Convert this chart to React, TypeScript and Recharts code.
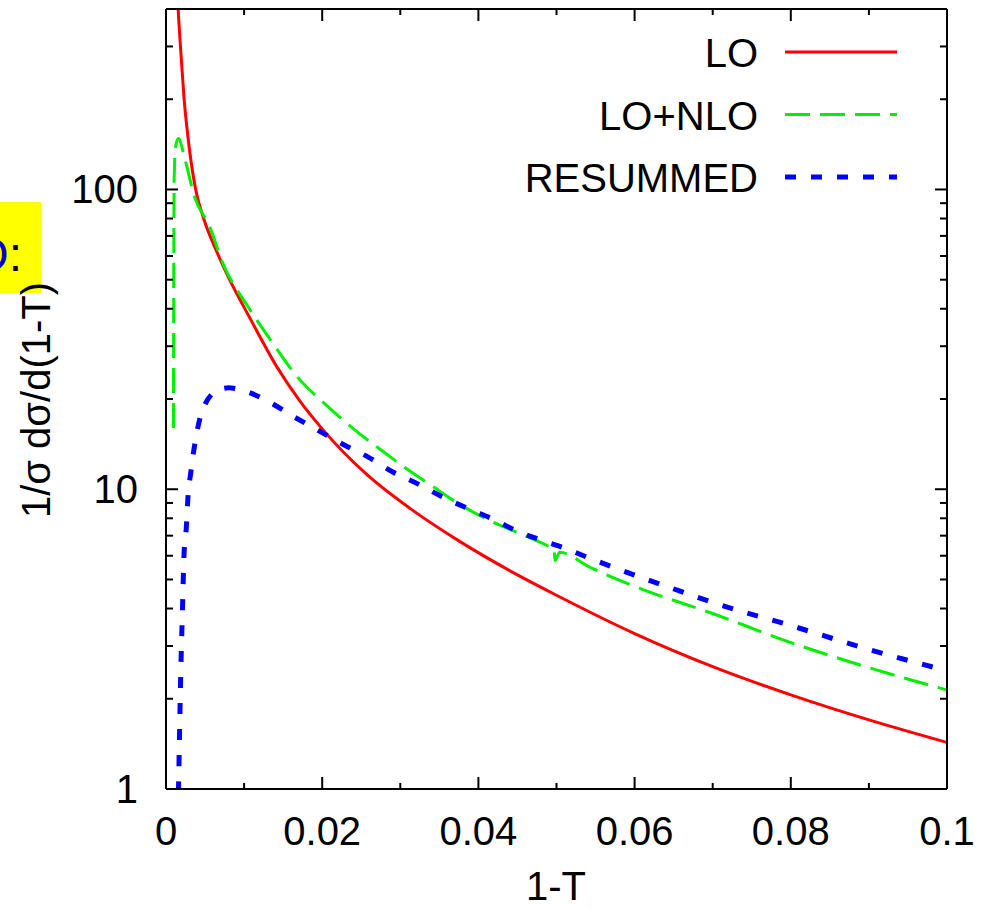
import { LineChart, Line, XAxis, YAxis, Legend } from "recharts";

// values (1-T on x, 1/sigma dsigma/d(1-T) on a log y axis)
const loX = [0.0013, 0.00155, 0.00188, 0.0023, 0.00286, 0.0038, 0.00478, 0.0065, 0.0078, 0.0108, 0.0142, 0.0172, 0.02, 0.0257, 0.0316, 0.0376, 0.045, 0.05, 0.06, 0.07, 0.08, 0.09, 0.1];
const loY = [560, 403, 292, 203, 146, 100, 80.6, 62, 52.2, 37, 25.6, 19.6, 15.9, 11.2, 8.5, 6.7, 5.18, 4.43, 3.3, 2.56, 2.06, 1.7, 1.43];

const nloX = [0.00095, 0.001, 0.00105, 0.0012, 0.00158, 0.0024, 0.0036, 0.0056, 0.0073, 0.0104, 0.0133, 0.0167, 0.0208, 0.024, 0.0274, 0.0308, 0.0342, 0.0376, 0.0411, 0.0462, 0.049, 0.0497, 0.0498, 0.0504, 0.0543, 0.06, 0.07, 0.08, 0.09, 0.1];
const nloY = [16, 60, 110, 138, 148, 127, 95.5, 75, 56.5, 41, 31.7, 23.9, 18.8, 15.9, 13.6, 11.7, 10.2, 8.9, 7.94, 6.96, 6.45, 6.32, 5.78, 6.16, 5.49, 4.74, 3.85, 3.08, 2.54, 2.14];

const resX = [0.0015, 0.0016, 0.00175, 0.0019, 0.0021, 0.0023, 0.0026, 0.0028, 0.0032, 0.0046, 0.0065, 0.008, 0.0095, 0.0133, 0.0163, 0.0197, 0.0227, 0.0259, 0.0291, 0.0323, 0.0355, 0.0389, 0.0419, 0.045, 0.0485, 0.0511, 0.0543, 0.0577, 0.0645, 0.07, 0.08, 0.09, 0.1];
const resY = [0.8, 1.0, 1.61, 2.5, 3.88, 5.97, 7.45, 9.3, 11.5, 18.1, 21.3, 21.8, 21.5, 19.5, 17.5, 15.6, 14.1, 12.8, 11.4, 10.4, 9.4, 8.57, 7.94, 7.24, 6.7, 6.35, 5.88, 5.44, 4.7, 4.19, 3.51, 2.92, 2.48];

const xTicks = [0, 0.01, 0.02, 0.03, 0.04, 0.05, 0.06, 0.07, 0.08, 0.09, 0.1];
const yTicks = [1, 2, 3, 4, 5, 6, 7, 8, 9, 10, 20, 30, 40, 50, 60, 70, 80, 90, 100, 200, 300, 400];

const toPoints = (xs: number[], ys: number[]) => xs.map((x, i) => ({ x, y: ys[i] }));

const series = [
  { name: "LO", data: toPoints(loX, loY), color: "#ff0000", width: 3, dash: undefined },
  { name: "LO+NLO", data: toPoints(nloX, nloY), color: "#00f000", width: 3, dash: "25 10" },
  { name: "RESUMMED", data: toPoints(resX, resY), color: "#0000ff", width: 5, dash: "11 15" },
];

const FONT = "'Liberation Sans', Arial, Helvetica, sans-serif";

const isMajorX = (v: number) => Math.round(v * 100) % 2 === 0;
const isMajorY = (v: number) => Number.isInteger(Math.log10(v));

const BottomTick = ({ x, y, payload }: any) => {
  const major = isMajorX(payload.value);
  return (
    <g>
      <line x1={x} x2={x} y1={y} y2={y - (major ? 12 : 6)} stroke="#000" strokeWidth={2} />
      {major && (
        <text x={x} y={y + 56} textAnchor="middle" fontSize={40} fontFamily={FONT} fill="#000">
          {String(payload.value)}
        </text>
      )}
    </g>
  );
};

const TopTick = ({ x, y, payload }: any) => (
  <line x1={x} x2={x} y1={y} y2={y + (isMajorX(payload.value) ? 12 : 6)} stroke="#000" strokeWidth={2} />
);

const LeftTick = ({ x, y, payload }: any) => {
  const major = isMajorY(payload.value);
  return (
    <g>
      <line x1={x} x2={x + (major ? 12 : 7)} y1={y} y2={y} stroke="#000" strokeWidth={2} />
      {major && (
        <text x={x - 28} y={y + 14} textAnchor="end" fontSize={40} fontFamily={FONT} fill="#000">
          {String(payload.value)}
        </text>
      )}
    </g>
  );
};

const RightTick = ({ x, y, payload }: any) => (
  <line x1={x} x2={x - (isMajorY(payload.value) ? 12 : 7)} y1={y} y2={y} stroke="#000" strokeWidth={2} />
);

const LegendBox = () => (
  <svg width={450} height={210}>
    {series.map((s, i) => {
      const cy = 52 + i * 62.5;
      return (
        <g key={s.name}>
          <text x={258} y={cy + 15} textAnchor="end" fontSize={40} fontFamily={FONT} fill="#000">
            {s.name}
          </text>
          <line x1={285} x2={397} y1={cy} y2={cy} stroke={s.color} strokeWidth={s.width} strokeDasharray={s.dash} />
        </g>
      );
    })}
  </svg>
);

export default function App() {
  const axisLine = { stroke: "#000", strokeWidth: 2 };
  return (
    <div style={{ position: "absolute", left: 0, top: 0, width: 994, height: 909, background: "#fff" }}>
      <svg width={41} height={91} style={{ position: "absolute", left: 0, top: 202 }}>
        <rect x={0} y={0} width={41} height={91} fill="#ffff00" />
        <text x={22} y={69} textAnchor="end" fontSize={48} fontFamily={FONT}>
          <tspan fill="#0000cc">D</tspan>
          <tspan fill="#000">:</tspan>
        </text>
      </svg>
      <div style={{ position: "absolute", left: 0, top: 0 }}>
        <LineChart width={994} height={909} margin={{ top: 8, right: 46, left: 0, bottom: 0 }}>
          <XAxis
            xAxisId="b"
            dataKey="x"
            type="number"
            domain={[0, 0.1]}
            ticks={xTicks}
            interval={0}
            height={120}
            tickSize={0}
            tickMargin={0}
            tickLine={false}
            axisLine={axisLine}
            tick={BottomTick}
            allowDataOverflow
            label={{
              content: () => (
                <text x={556} y={900} textAnchor="middle" fontSize={40} fontFamily={FONT} fill="#000">
                  1-T
                </text>
              ),
            }}
          />
          <XAxis
            xAxisId="t"
            orientation="top"
            dataKey="x"
            type="number"
            domain={[0, 0.1]}
            ticks={xTicks}
            interval={0}
            height={1}
            tickSize={0}
            tickMargin={0}
            tickLine={false}
            axisLine={axisLine}
            tick={TopTick}
            allowDataOverflow
          />
          <YAxis
            yAxisId="l"
            type="number"
            scale="log"
            domain={[1, 400]}
            ticks={yTicks}
            interval={0}
            width={166}
            tickSize={0}
            tickMargin={0}
            tickLine={false}
            axisLine={axisLine}
            tick={LeftTick}
            allowDataOverflow
            label={{
              content: () => (
                <text
                  transform="translate(50,400) rotate(-90)"
                  textAnchor="middle"
                  fontSize={40}
                  fontFamily={FONT}
                  fill="#000"
                >
                  1/σ dσ/d(1-T)
                </text>
              ),
            }}
          />
          <YAxis
            yAxisId="r"
            orientation="right"
            type="number"
            scale="log"
            domain={[1, 400]}
            ticks={yTicks}
            interval={0}
            width={1}
            tickSize={0}
            tickMargin={0}
            tickLine={false}
            axisLine={axisLine}
            tick={RightTick}
            allowDataOverflow
          />
          <Legend
            layout="horizontal"
            verticalAlign="middle"
            content={LegendBox}
            wrapperStyle={{ position: "absolute", left: 500, top: 0, width: 450, height: 210 }}
          />
          {series.map((s) => (
            <Line
              key={s.name}
              xAxisId="b"
              yAxisId="l"
              data={s.data}
              dataKey="y"
              name={s.name}
              type="monotone"
              stroke={s.color}
              strokeWidth={s.width}
              strokeDasharray={s.dash}
              dot={false}
              activeDot={false}
              isAnimationActive={false}
            />
          ))}
        </LineChart>
      </div>
    </div>
  );
}
